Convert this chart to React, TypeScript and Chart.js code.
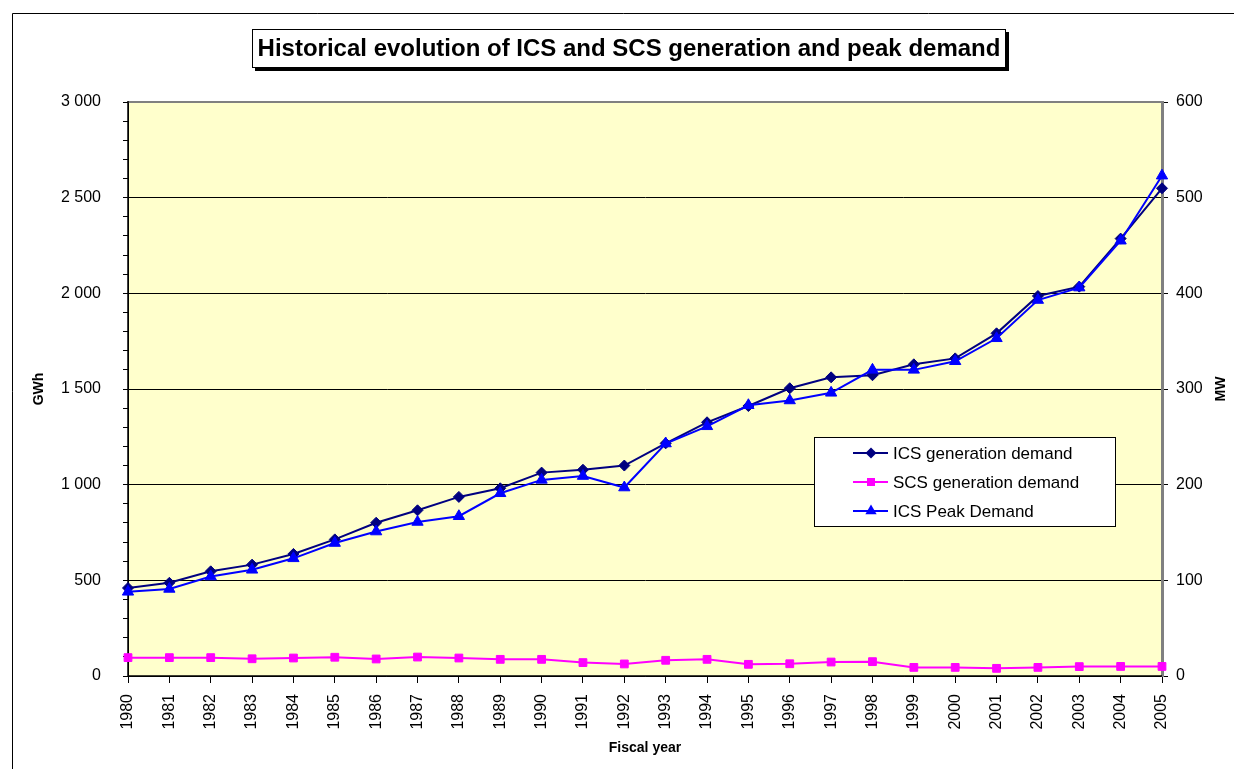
import React, { useEffect, useRef } from 'react';
import { Chart, registerables } from 'chart.js';

Chart.register(...registerables);

const years = ['1980', '1981', '1982', '1983', '1984', '1985', '1986', '1987', '1988', '1989', '1990', '1991', '1992', '1993', '1994', '1995', '1996', '1997', '1998', '1999', '2000', '2001', '2002', '2003', '2004', '2005'];

// GWh (left axis)
const icsGeneration = [460, 487, 547, 582, 638, 714, 801, 866, 936, 981, 1063, 1078, 1100, 1216, 1326, 1411, 1504, 1561, 1572, 1629, 1660, 1791, 1986, 2035, 2286, 2549];
const scsGeneration = [96, 96, 96, 90, 94, 98, 89, 99, 94, 87, 87, 70, 63, 82, 87, 61, 64, 73, 75, 45, 45, 40, 45, 49, 50, 50];
// MW (right axis)
const icsPeak = [88, 91, 104, 111, 123, 139, 151, 161, 167, 191, 205, 209, 197, 243, 261, 283, 288, 296, 320, 320, 329, 353, 393, 406, 455, 523];

const leftMajorTicks = [0, 500, 1000, 1500, 2000, 2500, 3000];
const leftMinorStep = 100;
const rightTicks = [0, 100, 200, 300, 400, 500, 600];

const seriesNames = ['ICS generation demand', 'SCS generation demand', 'ICS Peak Demand'];
const seriesColors = ['#000080', '#FF00FF', '#0000FF'];

const TITLE = 'Historical evolution of ICS and SCS generation and peak demand';
const FONT = '"Liberation Sans", Arial, Helvetica, sans-serif';

const fmtThousands = (v: number) => {
  if (v >= 1000) {
    const th = Math.floor(v / 1000);
    const rest = String(v % 1000).padStart(3, '0');
    return `${th} ${rest}`;
  }
  return String(v);
};

const drawMarker = (ctx: CanvasRenderingContext2D, kind: string, x: number, y: number, color: string) => {
  ctx.save();
  ctx.fillStyle = color;
  ctx.strokeStyle = color;
  ctx.beginPath();
  if (kind === 'diamond') {
    const r = 5.5;
    ctx.moveTo(x, y - r);
    ctx.lineTo(x + r, y);
    ctx.lineTo(x, y + r);
    ctx.lineTo(x - r, y);
    ctx.closePath();
  } else if (kind === 'square') {
    ctx.rect(x - 4, y - 4, 8, 8);
  } else {
    const r = 6.5;
    ctx.moveTo(x, y - r);
    ctx.lineTo(x + r * 0.866, y + r * 0.5);
    ctx.lineTo(x - r * 0.866, y + r * 0.5);
    ctx.closePath();
  }
  ctx.fill();
  ctx.restore();
};

const decorPlugin = {
  id: 'decor',
  beforeDraw(chart: any) {
    const { ctx, chartArea: a, width, height } = chart;
    ctx.save();
    ctx.fillStyle = '#FFFFFF';
    ctx.fillRect(0, 0, width, height);
    // outer frame
    ctx.strokeStyle = '#000000';
    ctx.lineWidth = 1;
    ctx.beginPath();
    ctx.moveTo(12.5, height);
    ctx.lineTo(12.5, 13.5);
    ctx.lineTo(width, 13.5);
    ctx.stroke();
    // plot area background
    ctx.fillStyle = '#FFFFCC';
    ctx.fillRect(a.left, a.top, a.right - a.left, a.bottom - a.top);
    ctx.restore();
  },
  beforeDatasetsDraw(chart: any) {
    const { ctx, chartArea: a } = chart;
    ctx.save();
    ctx.strokeStyle = '#808080';
    ctx.lineWidth = 2;
    ctx.beginPath();
    ctx.moveTo(a.left, a.top);
    ctx.lineTo(a.right, a.top);
    ctx.stroke();
    ctx.lineWidth = 3;
    ctx.beginPath();
    ctx.moveTo(a.right + 0.5, a.top - 1);
    ctx.lineTo(a.right + 0.5, a.bottom);
    ctx.stroke();
    ctx.strokeStyle = '#000000';
    ctx.lineWidth = 1.5;
    ctx.beginPath();
    ctx.moveTo(a.left, a.top - 1);
    ctx.lineTo(a.left, a.bottom);
    ctx.lineTo(a.right, a.bottom);
    ctx.stroke();
    ctx.restore();
  },
  afterDraw(chart: any) {
    const { ctx, chartArea: a } = chart;
    ctx.save();
    // title box with shadow
    const bx = 252, by = 29, bw = 754, bh = 39;
    ctx.fillStyle = '#000000';
    ctx.fillRect(bx + 3, by + 3, bw, bh);
    ctx.fillStyle = '#FFFFFF';
    ctx.fillRect(bx, by, bw, bh);
    ctx.strokeStyle = '#000000';
    ctx.lineWidth = 1;
    ctx.strokeRect(bx + 0.5, by + 0.5, bw - 1, bh - 1);
    ctx.fillStyle = '#000000';
    ctx.font = `bold 24px ${FONT}`;
    ctx.textAlign = 'center';
    ctx.textBaseline = 'middle';
    ctx.fillText(TITLE, bx + bw / 2, by + bh / 2 + 1);

    // axis titles
    ctx.font = `bold 14px ${FONT}`;
    ctx.save();
    ctx.translate(39, 389);
    ctx.rotate(-Math.PI / 2);
    ctx.fillText('GWh', 0, 0);
    ctx.restore();
    ctx.save();
    ctx.translate(1221, 389);
    ctx.rotate(-Math.PI / 2);
    ctx.fillText('MW', 0, 0);
    ctx.restore();
    ctx.fillText('Fiscal year', (a.left + a.right) / 2, 748);

    // legend
    const lx = 814, ly = 437, lw = 301, lh = 89;
    ctx.fillStyle = '#FFFFFF';
    ctx.fillRect(lx, ly, lw, lh);
    ctx.strokeStyle = '#000000';
    ctx.lineWidth = 1;
    ctx.strokeRect(lx + 0.5, ly + 0.5, lw, lh);
    const rows = [453, 482, 511];
    const kinds = ['diamond', 'square', 'triangle'];
    ctx.font = `17px ${FONT}`;
    ctx.textAlign = 'left';
    ctx.textBaseline = 'middle';
    rows.forEach((ry, i) => {
      ctx.strokeStyle = seriesColors[i];
      ctx.lineWidth = 2;
      ctx.beginPath();
      ctx.moveTo(853, ry);
      ctx.lineTo(888, ry);
      ctx.stroke();
      drawMarker(ctx, kinds[i], 871, ry, seriesColors[i]);
      ctx.fillStyle = '#000000';
      ctx.fillText(seriesNames[i], 893, ry + 1);
    });
    ctx.restore();
  },
};

export default function App() {
  const canvasRef = useRef<HTMLCanvasElement | null>(null);

  useEffect(() => {
    const canvas = canvasRef.current;
    if (!canvas) return;
    const tickFont = { family: FONT, size: 16 };
    const chart = new Chart(canvas, {
      type: 'line',
      data: {
        labels: years,
        datasets: [
          {
            label: seriesNames[0],
            data: icsGeneration,
            yAxisID: 'y',
            borderColor: seriesColors[0],
            backgroundColor: seriesColors[0],
            borderWidth: 2,
            pointStyle: 'rectRot',
            pointRadius: 5.5,
            pointBorderWidth: 1,
            tension: 0,
            clip: false as any,
            order: 1,
          },
          {
            label: seriesNames[1],
            data: scsGeneration,
            yAxisID: 'y',
            borderColor: seriesColors[1],
            backgroundColor: seriesColors[1],
            borderWidth: 2,
            pointStyle: 'rect',
            pointRadius: 5.5,
            pointBorderWidth: 1,
            tension: 0,
            clip: false as any,
            order: 2,
          },
          {
            label: seriesNames[2],
            data: icsPeak,
            yAxisID: 'y1',
            borderColor: seriesColors[2],
            backgroundColor: seriesColors[2],
            borderWidth: 2,
            pointStyle: 'triangle',
            pointRadius: 6.5,
            pointBorderWidth: 1,
            tension: 0,
            clip: false as any,
            order: 0,
          },
        ],
      },
      options: {
        animation: false,
        responsive: false,
        devicePixelRatio: 1,
        layout: { padding: { top: 102, left: 0, right: 0, bottom: 0 } },
        plugins: {
          legend: { display: false },
          tooltip: { enabled: false },
          title: { display: false },
        },
        scales: {
          x: {
            type: 'category',
            offset: false,
            grid: { drawOnChartArea: false, tickLength: 7, tickColor: '#000000', offset: false },
            border: { color: '#000000', width: 1 },
            ticks: {
              autoSkip: false,
              maxRotation: 90,
              minRotation: 90,
              font: tickFont,
              color: '#000000',
              padding: 11,
            },
            afterFit: (s: any) => {
              s.height = 93;
            },
          },
          y: {
            type: 'linear',
            position: 'left',
            min: 0,
            max: 3000,
            afterBuildTicks: (s: any) => {
              const t: { value: number }[] = [];
              for (let v = leftMajorTicks[0]; v <= leftMajorTicks[leftMajorTicks.length - 1]; v += leftMinorStep) {
                t.push({ value: v });
              }
              s.ticks = t;
            },
            ticks: {
              autoSkip: false,
              font: tickFont,
              color: '#000000',
              padding: 22,
              callback: (v: any) => (leftMajorTicks.includes(Number(v)) ? fmtThousands(Number(v)) : ''),
            },
            grid: {
              color: (c: any) => {
                const v = c.tick ? c.tick.value : -1;
                return leftMajorTicks.includes(v) && v > 0 && v < 3000 ? '#000000' : 'rgba(0,0,0,0)';
              },
              tickColor: '#000000',
              tickLength: 5,
              lineWidth: 1,
            },
            border: { color: '#000000', width: 1 },
            afterFit: (s: any) => {
              s.width = 128;
            },
          },
          y1: {
            type: 'linear',
            position: 'right',
            min: 0,
            max: 600,
            afterBuildTicks: (s: any) => {
              s.ticks = rightTicks.map((v) => ({ value: v }));
            },
            ticks: {
              autoSkip: false,
              font: tickFont,
              color: '#000000',
              padding: 8,
            },
            grid: { drawOnChartArea: false, tickColor: '#000000', tickLength: 6 },
            border: { color: '#808080', width: 3 },
            afterFit: (s: any) => {
              s.width = 72;
            },
          },
        },
      } as any,
      plugins: [decorPlugin],
    });
    return () => chart.destroy();
  }, []);

  return (
    <div style={{ position: 'absolute', left: 0, top: 0, width: 1234, height: 769 }}>
      <canvas ref={canvasRef} width={1234} height={769} style={{ display: 'block', width: 1234, height: 769 }} />
    </div>
  );
}
